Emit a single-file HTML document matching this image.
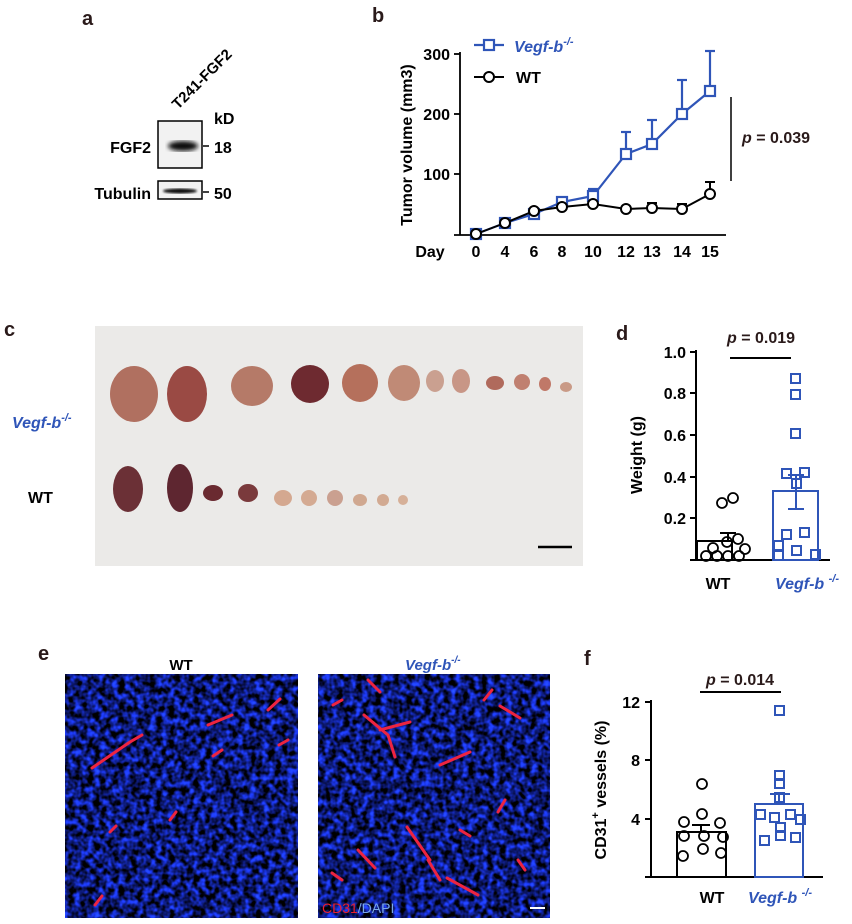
<!DOCTYPE html>
<html><head><meta charset="utf-8"><style>
html,body{margin:0;padding:0;background:#fff;}
svg{display:block;font-family:"Liberation Sans",Arial,sans-serif;font-weight:bold;}
</style></head><body>
<svg width="852" height="924" viewBox="0 0 852 924" xmlns="http://www.w3.org/2000/svg">
<defs>
<filter id="cells" x="0" y="0" width="100%" height="100%" color-interpolation-filters="sRGB">
<feTurbulence type="fractalNoise" baseFrequency="0.16" numOctaves="2" seed="3" result="n"/>
<feColorMatrix in="n" type="matrix" values="0.3 0 0 0 -0.1  0.6 0 0 0 -0.2  2.4 0 0 0 -0.75  0 0 0 0 1"/>
</filter>
<filter id="blot"><feGaussianBlur stdDeviation="2"/></filter>
<filter id="soft"><feGaussianBlur stdDeviation="1"/></filter>
</defs>

<!-- Panel a -->
<text x="82" y="25" font-size="20" fill="#2a1a1a">a</text>
<text x="0" y="0" font-size="15" transform="translate(178,110) rotate(-45)">T241-FGF2</text>
<text x="214" y="124" font-size="16">kD</text>
<rect x="158" y="121" width="44" height="47" fill="#f2f2f2" stroke="#000" stroke-width="1.5"/>
<ellipse cx="183" cy="146" rx="15" ry="5" fill="#111" filter="url(#blot)"/>
<rect x="158" y="181" width="44" height="18" fill="#f2f2f2" stroke="#000" stroke-width="1.5"/>
<ellipse cx="180" cy="191" rx="17" ry="2.5" fill="#111" filter="url(#soft)"/>
<text x="151" y="153" font-size="16" text-anchor="end">FGF2</text>
<text x="151" y="199" font-size="16" text-anchor="end">Tubulin</text>
<line x1="203" y1="146" x2="209" y2="146" stroke="#000" stroke-width="1.5"/>
<line x1="203" y1="192" x2="209" y2="192" stroke="#000" stroke-width="1.5"/>
<text x="214" y="153" font-size="16">18</text>
<text x="214" y="199" font-size="16">50</text>

<!-- Panel b -->
<text x="372" y="22" font-size="20" fill="#2a1a1a">b</text>
<g stroke="#000" stroke-width="1.8" fill="none">
<line x1="460" y1="52" x2="460" y2="235"/>
<line x1="454" y1="235" x2="726" y2="235"/>
<line x1="454" y1="54" x2="460" y2="54"/><line x1="454" y1="114" x2="460" y2="114"/><line x1="454" y1="174" x2="460" y2="174"/>
</g>
<g font-size="16" text-anchor="end"><text x="450" y="60">300</text><text x="450" y="120">200</text><text x="450" y="180">100</text></g>
<text x="0" y="0" font-size="16" text-anchor="middle" transform="translate(412,145) rotate(-90)">Tumor volume (mm3)</text>
<g font-size="16" text-anchor="middle">
<text x="430" y="257">Day</text>
<text x="476" y="257">0</text><text x="505" y="257">4</text><text x="534" y="257">6</text><text x="562" y="257">8</text><text x="593" y="257">10</text><text x="626" y="257">12</text><text x="652" y="257">13</text><text x="682" y="257">14</text><text x="710" y="257">15</text>
</g>
<g stroke="#2f55b8" stroke-width="2.2" fill="none">
<polyline points="476,234 505,223 534,214 562,202 593,196 626,154 652,144 682,114 710,91"/>
<line x1="593" y1="196" x2="593" y2="189"/><line x1="588" y1="189" x2="598" y2="189"/>
<line x1="626" y1="154" x2="626" y2="132"/><line x1="621" y1="132" x2="631" y2="132"/>
<line x1="652" y1="144" x2="652" y2="120"/><line x1="647" y1="120" x2="657" y2="120"/>
<line x1="682" y1="114" x2="682" y2="80"/><line x1="677" y1="80" x2="687" y2="80"/>
<line x1="710" y1="91" x2="710" y2="51"/><line x1="705" y1="51" x2="715" y2="51"/>
<g fill="#fff">
<rect x="471" y="229" width="10" height="10"/><rect x="500" y="218" width="10" height="10"/><rect x="529" y="209" width="10" height="10"/><rect x="557" y="197" width="10" height="10"/><rect x="588" y="191" width="10" height="10"/><rect x="621" y="149" width="10" height="10"/><rect x="647" y="139" width="10" height="10"/><rect x="677" y="109" width="10" height="10"/><rect x="705" y="86" width="10" height="10"/>
</g>
</g>
<g stroke="#000" stroke-width="2" fill="none">
<polyline points="476,234 505,223 534,211 562,207 593,204 626,209 652,208 682,209 710,194"/>
<line x1="710" y1="194" x2="710" y2="182"/><line x1="705" y1="182" x2="715" y2="182"/>
<line x1="652" y1="208" x2="652" y2="203"/><line x1="647" y1="203" x2="657" y2="203"/>
<line x1="682" y1="209" x2="682" y2="204"/><line x1="677" y1="204" x2="687" y2="204"/>
<g fill="#fff">
<circle cx="476" cy="234" r="5"/><circle cx="505" cy="223" r="5"/><circle cx="534" cy="211" r="5"/><circle cx="562" cy="207" r="5"/><circle cx="593" cy="204" r="5"/><circle cx="626" cy="209" r="5"/><circle cx="652" cy="208" r="5"/><circle cx="682" cy="209" r="5"/><circle cx="710" cy="194" r="5"/>
</g>
</g>
<line x1="474" y1="45" x2="504" y2="45" stroke="#2f55b8" stroke-width="2.2"/>
<rect x="484" y="40" width="10" height="10" fill="#fff" stroke="#2f55b8" stroke-width="2.2"/>
<text x="514" y="52" font-size="16" fill="#2f55b8" font-style="italic">Vegf-b<tspan dy="-7" font-size="11">-/-</tspan></text>
<line x1="474" y1="77" x2="504" y2="77" stroke="#000" stroke-width="2"/>
<circle cx="489" cy="77" r="5" fill="#fff" stroke="#000" stroke-width="2"/>
<text x="516" y="83" font-size="16">WT</text>
<line x1="731" y1="97" x2="731" y2="181" stroke="#000" stroke-width="1.5"/>
<text x="742" y="143" font-size="16" fill="#2a1a1a"><tspan font-style="italic">p</tspan> = 0.039</text>

<!-- Panel c -->
<text x="4" y="336" font-size="20" fill="#2a1a1a">c</text>
<rect x="95" y="326" width="488" height="240" fill="#ebeae8"/>
<text x="12" y="428" font-size="16" fill="#2f55b8" font-style="italic">Vegf-b<tspan dy="-7" font-size="11">-/-</tspan></text>
<text x="28" y="503" font-size="16">WT</text>
<g>
<ellipse cx="134" cy="394" rx="24" ry="28" fill="#b07060"/>
<ellipse cx="187" cy="394" rx="20" ry="28" fill="#9a4a44"/>
<ellipse cx="252" cy="386" rx="21" ry="20" fill="#b57a68"/>
<ellipse cx="310" cy="384" rx="19" ry="19" fill="#6e2a30"/>
<ellipse cx="360" cy="383" rx="18" ry="19" fill="#b5705c"/>
<ellipse cx="404" cy="383" rx="16" ry="18" fill="#c08a76"/>
<ellipse cx="435" cy="381" rx="9" ry="11" fill="#caa090"/>
<ellipse cx="461" cy="381" rx="9" ry="12" fill="#c89686"/>
<ellipse cx="495" cy="383" rx="9" ry="7" fill="#b06a5c"/>
<ellipse cx="522" cy="382" rx="8" ry="8" fill="#c08070"/>
<ellipse cx="545" cy="384" rx="6" ry="7" fill="#c07868"/>
<ellipse cx="566" cy="387" rx="6" ry="5" fill="#c99a86"/>
<ellipse cx="128" cy="489" rx="15" ry="23" fill="#6b3036"/>
<ellipse cx="180" cy="488" rx="13" ry="24" fill="#5e2630"/>
<ellipse cx="213" cy="493" rx="10" ry="8" fill="#6a2a30"/>
<ellipse cx="248" cy="493" rx="10" ry="9" fill="#7a3a3c"/>
<ellipse cx="283" cy="498" rx="9" ry="8" fill="#d4a890"/>
<ellipse cx="309" cy="498" rx="8" ry="8" fill="#d4aa92"/>
<ellipse cx="335" cy="498" rx="8" ry="8" fill="#caa090"/>
<ellipse cx="360" cy="500" rx="7" ry="6" fill="#d0a890"/>
<ellipse cx="383" cy="500" rx="6" ry="6" fill="#d2aa92"/>
<ellipse cx="403" cy="500" rx="5" ry="5" fill="#d6b098"/>
</g>
<line x1="538" y1="547" x2="572" y2="547" stroke="#000" stroke-width="2.5"/>

<!-- Panel d -->
<text x="616" y="340" font-size="20" fill="#2a1a1a">d</text>
<g stroke="#000" stroke-width="2" fill="none">
<line x1="696" y1="350" x2="696" y2="560"/>
<line x1="690" y1="560" x2="830" y2="560"/>
<line x1="690" y1="352" x2="696" y2="352"/><line x1="690" y1="393" x2="696" y2="393"/><line x1="690" y1="435" x2="696" y2="435"/><line x1="690" y1="477" x2="696" y2="477"/><line x1="690" y1="518" x2="696" y2="518"/>
<rect x="697" y="541" width="35" height="19"/>
<line x1="728" y1="541" x2="728" y2="533"/><line x1="720" y1="533" x2="736" y2="533"/>
<line x1="730" y1="358" x2="791" y2="358"/>
<g stroke-width="1.8">
<circle cx="722" cy="503" r="5"/><circle cx="733" cy="498" r="5"/>
<circle cx="713" cy="548" r="5"/><circle cx="727" cy="542" r="5"/><circle cx="738" cy="539" r="5"/>
<circle cx="706" cy="556" r="5"/><circle cx="717" cy="556" r="5"/><circle cx="728" cy="556" r="5"/><circle cx="739" cy="556" r="5"/><circle cx="745" cy="549" r="5"/>
</g>
</g>
<g font-size="16" text-anchor="end"><text x="686" y="358">1.0</text><text x="686" y="399">0.8</text><text x="686" y="441">0.6</text><text x="686" y="483">0.4</text><text x="686" y="524">0.2</text></g>
<text x="0" y="0" font-size="16" text-anchor="middle" transform="translate(642,455) rotate(-90)">Weight (g)</text>
<text x="761" y="343" font-size="16" text-anchor="middle" fill="#2a1a1a"><tspan font-style="italic">p</tspan> = 0.019</text>
<g stroke="#2f55b8" stroke-width="2" fill="none">
<rect x="773" y="491" width="45" height="69"/>
<line x1="796" y1="491" x2="796" y2="475"/><line x1="796" y1="491" x2="796" y2="509"/><line x1="788" y1="509" x2="804" y2="509"/><line x1="788" y1="475" x2="804" y2="475"/>
<rect x="791" y="374" width="9" height="9"/><rect x="791" y="390" width="9" height="9"/><rect x="791" y="429" width="9" height="9"/>
<rect x="782" y="469" width="9" height="9"/><rect x="800" y="468" width="9" height="9"/><rect x="792" y="479" width="9" height="9"/>
<rect x="782" y="530" width="9" height="9"/><rect x="800" y="528" width="9" height="9"/>
<rect x="774" y="541" width="9" height="9"/><rect x="774" y="551" width="9" height="9"/><rect x="792" y="546" width="9" height="9"/><rect x="811" y="550" width="9" height="9"/>
</g>
<text x="718" y="589" font-size="16" text-anchor="middle">WT</text>
<text x="775" y="589" font-size="16" fill="#2f55b8" font-style="italic">Vegf-b <tspan dy="-7" font-size="11">-/-</tspan></text>

<!-- Panel e -->
<text x="38" y="660" font-size="20" fill="#2a1a1a">e</text>
<text x="181" y="670" font-size="15" text-anchor="middle">WT</text>
<text x="405" y="670" font-size="15" fill="#2f55b8" font-style="italic">Vegf-b<tspan dy="-7" font-size="10">-/-</tspan></text>
<rect x="65" y="674" width="233" height="244" fill="#1a2a80"/>
<rect x="65" y="674" width="233" height="244" filter="url(#cells)"/>
<rect x="318" y="674" width="232" height="244" fill="#1a2a80"/>
<rect x="318" y="674" width="232" height="244" filter="url(#cells)"/>
<g stroke="#ee2440" stroke-width="3" fill="none" stroke-linecap="round">
<path d="M92 768 L130 742 L142 735"/><path d="M208 725 L232 715"/><path d="M213 756 L222 750"/>
<path d="M268 710 L280 699"/><path d="M279 745 L288 740"/><path d="M110 832 L116 826"/>
<path d="M170 820 L176 812"/><path d="M95 905 L102 896"/>
<path d="M368 680 L380 692"/><path d="M333 705 L342 700"/><path d="M364 715 L388 735 L395 757"/>
<path d="M380 730 L410 722"/><path d="M440 765 L470 752"/><path d="M500 706 L520 718"/>
<path d="M484 700 L492 690"/><path d="M407 827 L430 860"/><path d="M428 860 L440 880"/>
<path d="M358 850 L375 868"/><path d="M460 830 L470 836"/><path d="M498 812 L505 800"/>
<path d="M447 878 L478 895"/><path d="M332 873 L342 880"/><path d="M518 860 L525 870"/>
</g>
<text x="322" y="913" font-size="14" font-weight="normal"><tspan fill="#e82030">CD31</tspan><tspan fill="#7aa8e8">/DAPI</tspan></text>
<line x1="530" y1="908" x2="545" y2="908" stroke="#fff" stroke-width="2"/>

<!-- Panel f -->
<text x="584" y="665" font-size="20" fill="#2a1a1a">f</text>
<g stroke="#000" stroke-width="2" fill="none">
<line x1="651" y1="700" x2="651" y2="877"/>
<line x1="645" y1="877" x2="823" y2="877"/>
<line x1="645" y1="702" x2="651" y2="702"/><line x1="645" y1="760" x2="651" y2="760"/><line x1="645" y1="819" x2="651" y2="819"/>
<rect x="677" y="832" width="49" height="45"/>
<line x1="701" y1="832" x2="701" y2="825"/><line x1="692" y1="825" x2="710" y2="825"/>
<line x1="700" y1="692" x2="781" y2="692"/>
<g stroke-width="1.8">
<circle cx="702" cy="784" r="5"/><circle cx="702" cy="814" r="5"/>
<circle cx="684" cy="822" r="5"/><circle cx="720" cy="823" r="5"/>
<circle cx="684" cy="836" r="5"/><circle cx="704" cy="836" r="5"/><circle cx="723" cy="837" r="5"/>
<circle cx="683" cy="856" r="5"/><circle cx="703" cy="849" r="5"/><circle cx="721" cy="853" r="5"/>
</g>
</g>
<g font-size="16" text-anchor="end"><text x="640" y="708">12</text><text x="640" y="766">8</text><text x="640" y="825">4</text></g>
<text x="0" y="0" font-size="16" text-anchor="middle" transform="translate(606,790) rotate(-90)">CD31<tspan dy="-7" font-size="11">+</tspan><tspan dy="7"> vessels (%)</tspan></text>
<text x="740" y="685" font-size="16" text-anchor="middle" fill="#2a1a1a"><tspan font-style="italic">p</tspan> = 0.014</text>
<g stroke="#2f55b8" stroke-width="2" fill="none">
<rect x="755" y="804" width="48" height="73"/>
<line x1="779" y1="804" x2="779" y2="794"/><line x1="770" y1="794" x2="790" y2="794"/>
<rect x="775" y="706" width="9" height="9"/><rect x="775" y="771" width="9" height="9"/><rect x="775" y="779" width="9" height="9"/><rect x="775" y="793" width="9" height="9"/>
<rect x="756" y="810" width="9" height="9"/><rect x="770" y="813" width="9" height="9"/><rect x="786" y="810" width="9" height="9"/><rect x="796" y="815" width="9" height="9"/>
<rect x="776" y="823" width="9" height="9"/><rect x="760" y="836" width="9" height="9"/><rect x="776" y="831" width="9" height="9"/><rect x="791" y="833" width="9" height="9"/>
</g>
<text x="712" y="903" font-size="16" text-anchor="middle">WT</text>
<text x="748" y="903" font-size="16" fill="#2f55b8" font-style="italic">Vegf-b <tspan dy="-7" font-size="11">-/-</tspan></text>
</svg>
</body></html>
